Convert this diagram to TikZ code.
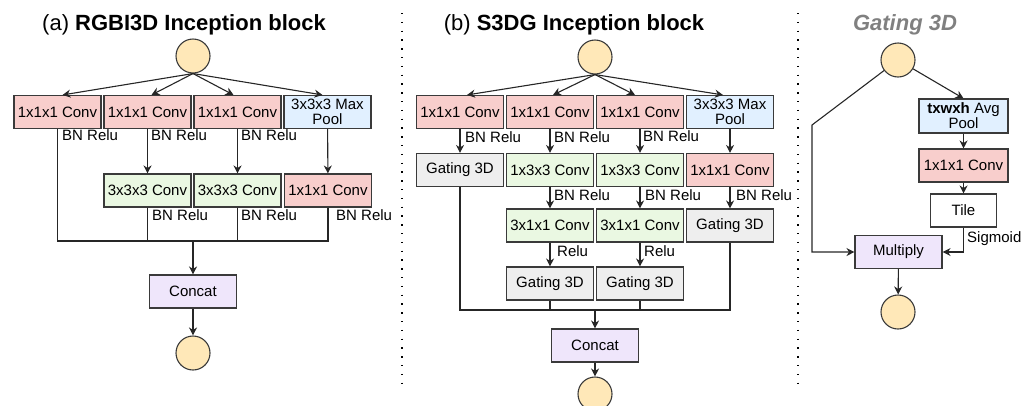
\documentclass[tikz,border=0pt]{standalone}
\usepackage{fontspec}
\setmainfont{Liberation Sans}
\usetikzlibrary{arrows.meta}
\definecolor{convred}{HTML}{F8CECC}
\definecolor{convgreen}{HTML}{EAF8E2}
\definecolor{poolblue}{HTML}{E1F0FF}
\definecolor{gategray}{HTML}{EEEEEE}
\definecolor{catpurple}{HTML}{EFE6FB}
\definecolor{ioyellow}{HTML}{FFE8B8}
\definecolor{edgegray}{HTML}{3A3A3A}
\definecolor{titlegray}{HTML}{808080}

\begin{document}
\begin{tikzpicture}[x=1pt,y=-1pt,
  blk/.style={draw=edgegray,line width=1.1pt,minimum width=87pt,minimum height=33pt,inner sep=0pt,align=center,font=\fontsize{15}{15}\selectfont},
  conv/.style={blk,fill=convred},
  conv2/.style={blk,fill=convgreen},
  pool/.style={blk,fill=poolblue},
  gate/.style={blk,fill=gategray},
  cat/.style={blk,fill=catpurple},
  io/.style={circle,draw=edgegray,line width=1.1pt,fill=ioyellow,minimum size=34pt,inner sep=0pt},
  lab/.style={anchor=west,inner sep=0pt,font=\fontsize{15}{15}\selectfont},
  arr/.style={-{Stealth[length=8pt,width=8pt]},line width=1.1pt,draw=black!85},
  wire/.style={line width=1.1pt,draw=black!85},
  ttl/.style={font=\fontsize{22}{22}\selectfont},
  sep/.style={line width=1.5pt,dash pattern=on 1.4pt off 7.4pt}
  ]
\useasboundingbox (0,0) rectangle (1032,405);
\def\rA{112}
\def\rB{190.5}
% (a) RGBI3D
\node[ttl] (ttlA) at (184,25) {(a) \textbf{RGBI3D Inception block}};
\node[io] (inA) at (193,56) {};
\node[conv] (a1) at (57.5,\rA) {1x1x1 Conv};
\node[conv] (a2) at (147.5,\rA) {1x1x1 Conv};
\node[conv] (a3) at (237.5,\rA) {1x1x1 Conv};
\node[pool] (a4) at (327.5,\rA) {3x3x3 Max\\Pool};
\node[conv2] (b2) at (147.5,\rB) {3x3x3 Conv};
\node[conv2] (b3) at (237.5,\rB) {3x3x3 Conv};
\node[conv] (b4) at (328,\rB) {1x1x1 Conv};
\node[cat] (catA) at (193,291.5) {Concat};
\node[io] (outA) at (193,353) {};
\coordinate (mA) at (193,241);
\draw[arr] (inA.south) -- ([xshift=5pt]a1.north);
\draw[arr] (inA.south) -- ([xshift=4pt]a2.north);
\draw[arr] (inA.south) -- ([xshift=-4pt]a3.north);
\draw[arr] (inA.south) -- ([xshift=-5pt]a4.north);
\draw[arr] (a2) -- (b2);
\draw[arr] (a3) -- (b3);
\draw[arr] (a4) -- (b4);
\draw[wire] (a1.south) -- (a1.south |- mA) -- (b4.south |- mA) -- (b4.south);
\draw[wire] (b2.south) -- (b2.south |- mA);
\draw[wire] (b3.south) -- (b3.south |- mA);
\draw[arr] (mA) -- (catA);
\draw[arr] (catA) -- (outA);
\node[lab] (la1) at (62,135) {BN Relu};
\node[lab] (la2) at (151,135) {BN Relu};
\node[lab] (la3) at (241,135) {BN Relu};
\node[lab] (lb2) at (152,215) {BN Relu};
\node[lab] (lb3) at (241,215) {BN Relu};
\node[lab] (lb4) at (336,215) {BN Relu};
\draw[sep] (402,13) -- (402,390);
% (b) S3DG
\node[ttl] (ttlB) at (574,25) {(b) \textbf{S3DG Inception block}};
\node[io] (inB) at (595,57) {};
\node[conv] (p1) at (460,\rA) {1x1x1 Conv};
\node[conv] (p2) at (550,\rA) {1x1x1 Conv};
\node[conv] (p3) at (640,\rA) {1x1x1 Conv};
\node[pool] (p4) at (730,\rA) {3x3x3 Max\\Pool};
\node[gate] (q1) at (460,170) {Gating 3D};
\node[conv2] (q2) at (550,170) {1x3x3 Conv};
\node[conv2] (q3) at (640,170) {1x3x3 Conv};
\node[conv] (q4) at (730,170) {1x1x1 Conv};
\node[conv2] (r2) at (550,225.5) {3x1x1 Conv};
\node[conv2] (r3) at (640,225.5) {3x1x1 Conv};
\node[gate] (r4) at (730,225.5) {Gating 3D};
\node[gate] (s2) at (550,283.5) {Gating 3D};
\node[gate] (s3) at (640,283.5) {Gating 3D};
\node[cat] (catB) at (595,345.5) {Concat};
\node[io] (outB) at (595,394) {};
\coordinate (mB) at (595,310);
\draw[arr] (inB.south) -- ([xshift=7pt]p1.north);
\draw[arr] (inB.south) -- ([xshift=3pt]p2.north);
\draw[arr] (inB.south) -- ([xshift=-5pt]p3.north);
\draw[arr] (inB.south) -- ([xshift=-7pt]p4.north);
\draw[arr] (p1) -- (q1);
\draw[arr] (p2) -- (q2);
\draw[arr] (p3) -- (q3);
\draw[arr] (p4) -- (q4);
\draw[arr] (q2) -- (r2);
\draw[arr] (q3) -- (r3);
\draw[arr] (q4) -- (r4);
\draw[arr] (r2) -- (s2);
\draw[arr] (r3) -- (s3);
\draw[wire] (q1.south) -- (q1.south |- mB) -- (r4.south |- mB) -- (r4.south);
\draw[wire] (s2.south) -- (s2.south |- mB);
\draw[wire] (s3.south) -- (s3.south |- mB);
\draw[arr] (mB) -- (catB);
\draw[arr] (catB) -- (outB);
\node[lab] (lp1) at (465,137) {BN Relu};
\node[lab] (lp2) at (554,137) {BN Relu};
\node[lab] (lp3) at (643,136) {BN Relu};
\node[lab] (lq2) at (554,195) {BN Relu};
\node[lab] (lq3) at (645,195) {BN Relu};
\node[lab] (lq4) at (736,195) {BN Relu};
\node[lab] (lr2) at (557,251) {Relu};
\node[lab] (lr3) at (644,251) {Relu};
\draw[sep] (798,13) -- (798,390);
% Gating 3D
\node[ttl,text=titlegray] (ttlC) at (905,25) {\textbf{\textit{Gating 3D}}};
\node[io] (inC) at (898,60) {};
\node[pool,minimum width=89pt,minimum height=34pt] (avg) at (963.5,116) {\textbf{txwxh} Avg\\Pool};
\node[conv,minimum width=89pt] (convC) at (963.5,165.5) {1x1x1 Conv};
\node[blk,fill=white,minimum width=66pt] (tile) at (963.5,210.5) {Tile};
\node[cat] (mult) at (898.5,252) {Multiply};
\node[io] (outC) at (898,312) {};
\coordinate (bendC) at (812,125);
\draw[arr] (inC) -- (avg.north);
\draw[arr] (avg) -- (convC);
\draw[arr] (convC) -- (tile);
\draw[arr] (tile.south) |- (mult.east);
\draw[arr] (inC) -- (bendC) |- (mult.west);
\draw[arr] (mult) -- (outC);
\node[lab] (lsig) at (967,239) {Sigmoid};
\end{tikzpicture}
\end{document}
